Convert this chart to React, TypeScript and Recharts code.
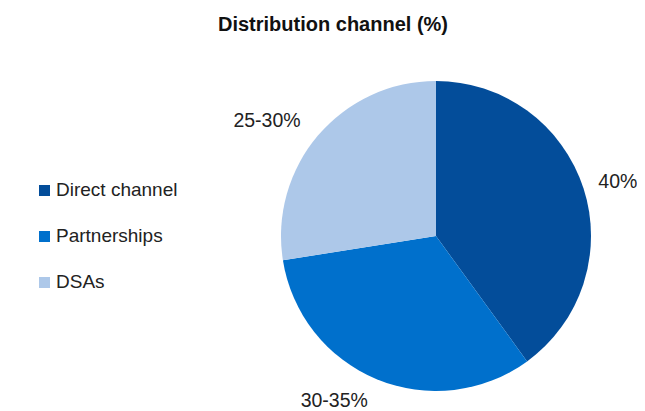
import React from 'react'
import { Pie, PieChart, Cell } from 'recharts'

const channels = ['Direct channel', 'Partnerships', 'DSAs']
const shares = [40, 32.5, 27.5]
const shareLabels = ['40%', '30-35%', '25-30%']
const colors = ['#034D9A', '#0070CC', '#ADC8E9']

const data = channels.map((name, i) => ({ name, value: shares[i], label: shareLabels[i] }))

const RADIAN = Math.PI / 180

function renderLabel(props: any) {
    const { cx, cy, midAngle, outerRadius, index } = props
    const r = outerRadius + 23
    const x = cx + r * Math.cos(-midAngle * RADIAN)
    const y = cy + r * Math.sin(-midAngle * RADIAN)
    return (
        <text x={x > cx ? x - 7 : x} y={y} fill='#222' fontSize={19.5} textAnchor={x > cx ? 'start' : 'end'} dominantBaseline='central'>
            {shareLabels[index]}
        </text>
    )
}

// legend kept outside the svg so it doesn't shift the pie
function LegendList() {
    return (
        <div style={{ position: 'absolute', left: 31, top: 159 }}>
            {channels.map((name, i) => (
                <div key={name} style={{ display: 'flex', alignItems: 'center', height: 46 }}>
                    <span style={{ width: 11, height: 11, background: colors[i], marginRight: 6, display: 'inline-block' }} />
                    <span style={{ fontSize: 19, color: '#222' }}>{name}</span>
                </div>
            ))}
        </div>
    )
}

export default function App() {
    return (
        <div style={{ position: 'relative', width: 637, height: 403, fontFamily: '"Liberation Sans", Arial, sans-serif' }}>
            <div style={{ position: 'absolute', top: 5, left: 0, width: 650, textAlign: 'center', fontWeight: 'bold', fontSize: 20, color: '#111' }}>
                Distribution channel (%)
            </div>
            <LegendList />
            <PieChart width={637} height={403} margin={{ top: 0, right: 0, bottom: 0, left: 0 }} style={{ overflow: 'visible' }}>
                <Pie
                    data={data}
                    dataKey='value'
                    cx={428}
                    cy={228}
                    outerRadius={155}
                    startAngle={90}
                    endAngle={-270}
                    stroke='none'
                    label={renderLabel}
                    labelLine={false}
                    isAnimationActive={false}
                >
                    {data.map((d, i) => <Cell key={d.name} fill={colors[i]} />)}
                </Pie>
            </PieChart>
        </div>
    )
}
